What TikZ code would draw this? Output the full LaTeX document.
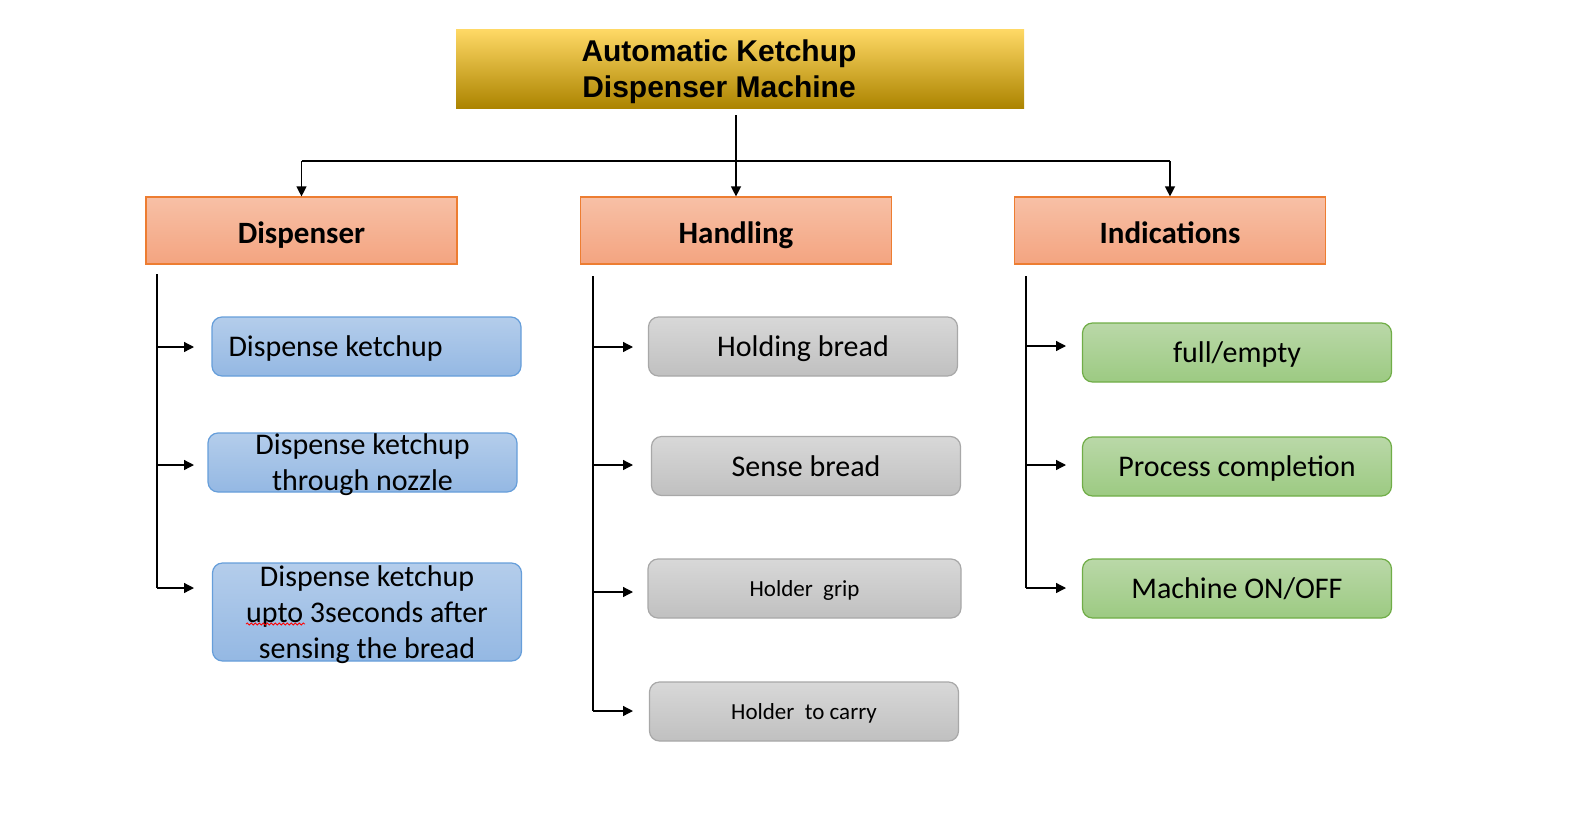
\documentclass[tikz,border=0pt]{standalone}
\usepackage{fontspec}
\setmainfont{Carlito}
\newfontfamily\titlefont{Liberation Sans}
\usetikzlibrary{arrows.meta,calc,decorations.pathmorphing}
\definecolor{tTop}{RGB}{255,217,102}
\definecolor{tMid}{RGB}{255,192,0}
\definecolor{tBot}{RGB}{172,132,0}
\definecolor{hTop}{RGB}{247,192,166}
\definecolor{hBot}{RGB}{244,164,128}
\definecolor{hLine}{RGB}{237,125,49}
\definecolor{bTop}{RGB}{180,205,235}
\definecolor{bBot}{RGB}{148,184,227}
\definecolor{bLine}{RGB}{102,158,218}
\definecolor{gTop}{RGB}{216,216,216}
\definecolor{gBot}{RGB}{192,192,192}
\definecolor{gLine}{RGB}{168,168,168}
\definecolor{nTop}{RGB}{186,216,168}
\definecolor{nBot}{RGB}{156,202,130}
\definecolor{nLine}{RGB}{112,173,71}
\tikzset{
  x=0.5pt,y=-0.5pt,
  titlebox/.style={rectangle,minimum width=284pt,minimum height=39.5pt,inner sep=0pt,
    top color=tTop,middle color=tMid,bottom color=tBot,draw=none},
  titletxt/.style={font=\titlefont\bfseries\fontsize{15}{18}\selectfont,align=center,inner sep=0pt},
  headbox/.style={rectangle,minimum width=155.5pt,minimum height=33.5pt,inner sep=0pt,
    top color=hTop,bottom color=hBot,draw=hLine,line width=0.6pt,
    text height=13pt,text depth=0pt,
    font=\bfseries\fontsize{15.5}{18}\selectfont},
  leafbox/.style={rectangle,rounded corners=5pt,minimum width=154.5pt,minimum height=29.5pt,
    inner sep=0pt,line width=0.6pt,align=center,font=\fontsize{15}{18}\selectfont},
  oneline/.style={text height=10pt,text depth=0pt},
  multiline/.style={text depth=0pt},
  bluebox/.style={leafbox,top color=bTop,bottom color=bBot,draw=bLine},
  graybox/.style={leafbox,top color=gTop,bottom color=gBot,draw=gLine},
  greenbox/.style={leafbox,top color=nTop,bottom color=nBot,draw=nLine},
  conn/.style={line width=0.65pt,black},
  arr/.style={conn,-{Triangle[length=5pt,width=5pt]}},
  spell/.style={red,line width=0.4pt,decorate,decoration={snake,amplitude=0.5pt,segment length=2pt}},
}
\begin{document}
\begin{tikzpicture}
\useasboundingbox (0,0) rectangle (1581,836);
% title
\node[titlebox] (title) at (740,68.5) {};
\node[titletxt] (titletext) at (719,71.5) {Automatic Ketchup\\Dispenser Machine};
% headers
\node[headbox] (disp) at (301.5,230.5) {Dispenser};
\node[headbox] (hand) at (736,230.5) {Handling};
\node[headbox] (ind) at (1170,230.5) {Indications};
% top connectors
\coordinate (ttop) at (736,115);
\coordinate (bus) at (736,161);
\draw[conn] (ttop) -- (bus);
\draw[conn] (disp.north |- bus) -- (ind.north |- bus);
\draw[arr] (disp.north |- bus) -- (disp.north);
\draw[arr] (bus) -- (hand.north);
\draw[arr] (ind.north |- bus) -- (ind.north);
% dispenser leaves
\node[bluebox,oneline] (d1) at (366.5,346.5) {\makebox[138pt][l]{Dispense ketchup}};
\node[bluebox,multiline] (d2) at (362.5,462.5) {Dispense ketchup\\through nozzle};
\node[bluebox,multiline,minimum height=49pt] (d3) at (367,612) {Dispense ketchup\\upto 3seconds after\\sensing the bread};
\coordinate (sp1) at (246,624);
\coordinate (sp2) at (305,624);
\draw[spell] (sp1) -- (sp2);
% handling leaves
\node[graybox,oneline] (h1) at (803,346.5) {Holding bread};
\node[graybox,oneline] (h2) at (806,466) {Sense bread};
\node[graybox,minimum width=156.5pt,font=\fontsize{11.5}{14}\selectfont,text height=8pt,text depth=0pt] (h3) at (804.5,588.5) {Holder\ \ grip};
\node[graybox,font=\fontsize{11.5}{14}\selectfont,text height=8pt,text depth=0pt] (h4) at (804,711.5) {Holder\ \ to carry};
% indication leaves
\node[greenbox,oneline] (i1) at (1237,352.5) {full/empty};
\node[greenbox,oneline] (i2) at (1237,466.5) {Process completion};
\node[greenbox,oneline] (i3) at (1237,588.5) {Machine ON/OFF};
% dispenser branch
\coordinate (dtop) at (157,274);
\coordinate (da1) at (194,347);
\coordinate (da2) at (194,465);
\coordinate (da3) at (194,588);
\draw[conn] (dtop) -- (dtop |- da3);
\draw[arr] (dtop |- da1) -- (da1);
\draw[arr] (dtop |- da2) -- (da2);
\draw[arr] (dtop |- da3) -- (da3);
% handling branch
\coordinate (htop) at (593,276);
\coordinate (ha1) at (633,347);
\coordinate (ha2) at (633,465);
\coordinate (ha3) at (633,592);
\coordinate (ha4) at (633,711);
\draw[conn] (htop) -- (htop |- ha4);
\draw[arr] (htop |- ha1) -- (ha1);
\draw[arr] (htop |- ha2) -- (ha2);
\draw[arr] (htop |- ha3) -- (ha3);
\draw[arr] (htop |- ha4) -- (ha4);
% indications branch
\coordinate (itop) at (1026,276);
\coordinate (ia1) at (1066,346);
\coordinate (ia2) at (1066,465);
\coordinate (ia3) at (1066,588);
\draw[conn] (itop) -- (itop |- ia3);
\draw[arr] (itop |- ia1) -- (ia1);
\draw[arr] (itop |- ia2) -- (ia2);
\draw[arr] (itop |- ia3) -- (ia3);
\end{tikzpicture}
\end{document}
